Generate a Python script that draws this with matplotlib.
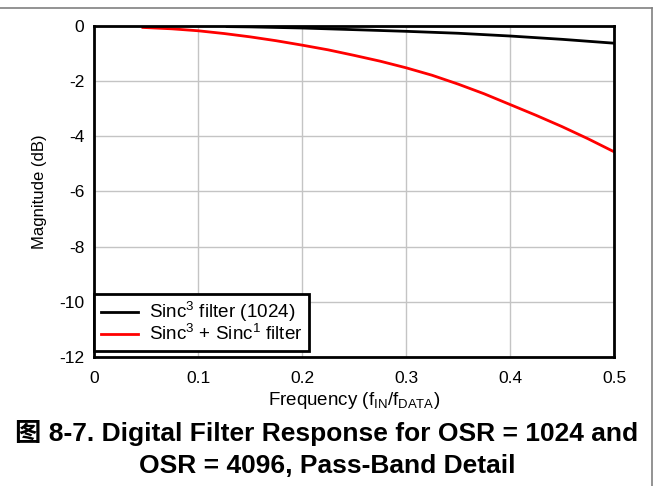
import matplotlib
matplotlib.use('Agg')
import matplotlib.pyplot as plt
from matplotlib.lines import Line2D

plt.rcParams['font.family'] = ['Liberation Sans', 'Noto Sans CJK SC', 'DejaVu Sans']
plt.rcParams['mathtext.fontset'] = 'custom'
plt.rcParams['mathtext.rm'] = 'Liberation Sans'
plt.rcParams['mathtext.it'] = 'Liberation Sans:italic'
plt.rcParams['axes.unicode_minus'] = False

# values
freq_sinc3 = [0.128, 0.15, 0.2, 0.25, 0.3, 0.35, 0.4, 0.45, 0.5]
mag_sinc3 = [-0.04, -0.05, -0.09, -0.15, -0.21, -0.28, -0.38, -0.50, -0.64]

freq_sinc31 = [0.047, 0.075, 0.1, 0.125, 0.15, 0.175, 0.2, 0.225, 0.25, 0.275, 0.3,
               0.325, 0.35, 0.375, 0.4, 0.425, 0.45, 0.475, 0.5]
mag_sinc31 = [-0.07, -0.12, -0.19, -0.29, -0.41, -0.55, -0.71, -0.88, -1.08, -1.29, -1.53,
              -1.80, -2.12, -2.47, -2.86, -3.25, -3.66, -4.10, -4.57]

xticks = [0, 0.1, 0.2, 0.3, 0.4, 0.5]
xticklabels = ['0', '0.1', '0.2', '0.3', '0.4', '0.5']
yticks = [0, -2, -4, -6, -8, -10, -12]

fig = plt.figure(figsize=(6.58, 4.86), dpi=100)
ax = fig.add_axes([0.1429, 0.2654, 0.7903, 0.6821])

ax.plot(freq_sinc3, mag_sinc3, color='black', lw=2, label='Sinc$^3$ filter (1024)')
ax.plot(freq_sinc31, mag_sinc31, color='red', lw=2, label='Sinc$^3$ + Sinc$^1$ filter')

ax.set_xlim(0, 0.5)
ax.set_ylim(-12, 0)
ax.set_xticks(xticks)
ax.set_xticklabels(xticklabels)
ax.set_yticks(yticks)
ax.grid(True, color='#c4c4c4', lw=1)
ax.tick_params(length=0, labelsize=12.5)
ax.tick_params(axis='x', pad=10)
ax.tick_params(axis='y', pad=7)
for s in ax.spines.values():
    s.set_linewidth(2)

ax.set_xlabel('Frequency (f$_{\\mathrm{IN}}$/f$_{\\mathrm{DATA}}$)', fontsize=13.5, labelpad=3)
ax.set_ylabel('Magnitude (dB)', fontsize=12, labelpad=9)

leg = ax.legend(loc='lower left', bbox_to_anchor=(0, 0.018), borderaxespad=0,
                fontsize=13.6, fancybox=False, framealpha=1, edgecolor='black',
                handlelength=2.0, handletextpad=0.55, labelspacing=0.0,
                borderpad=0.35)
leg.get_frame().set_linewidth(2)

# page border lines
fig.add_artist(Line2D([0, 0.991], [0.9835, 0.9835], color='#808080', lw=1.2))
fig.add_artist(Line2D([0.991, 0.991], [0, 0.9835], color='#808080', lw=1.2))

fig.text(0.497, 0.076, '图 8-7. Digital Filter Response for OSR = 1024 and\nOSR = 4096, Pass-Band Detail',
         ha='center', va='center', fontsize=19, fontweight='bold', linespacing=1.45)

fig.savefig('out.png', dpi=100)
